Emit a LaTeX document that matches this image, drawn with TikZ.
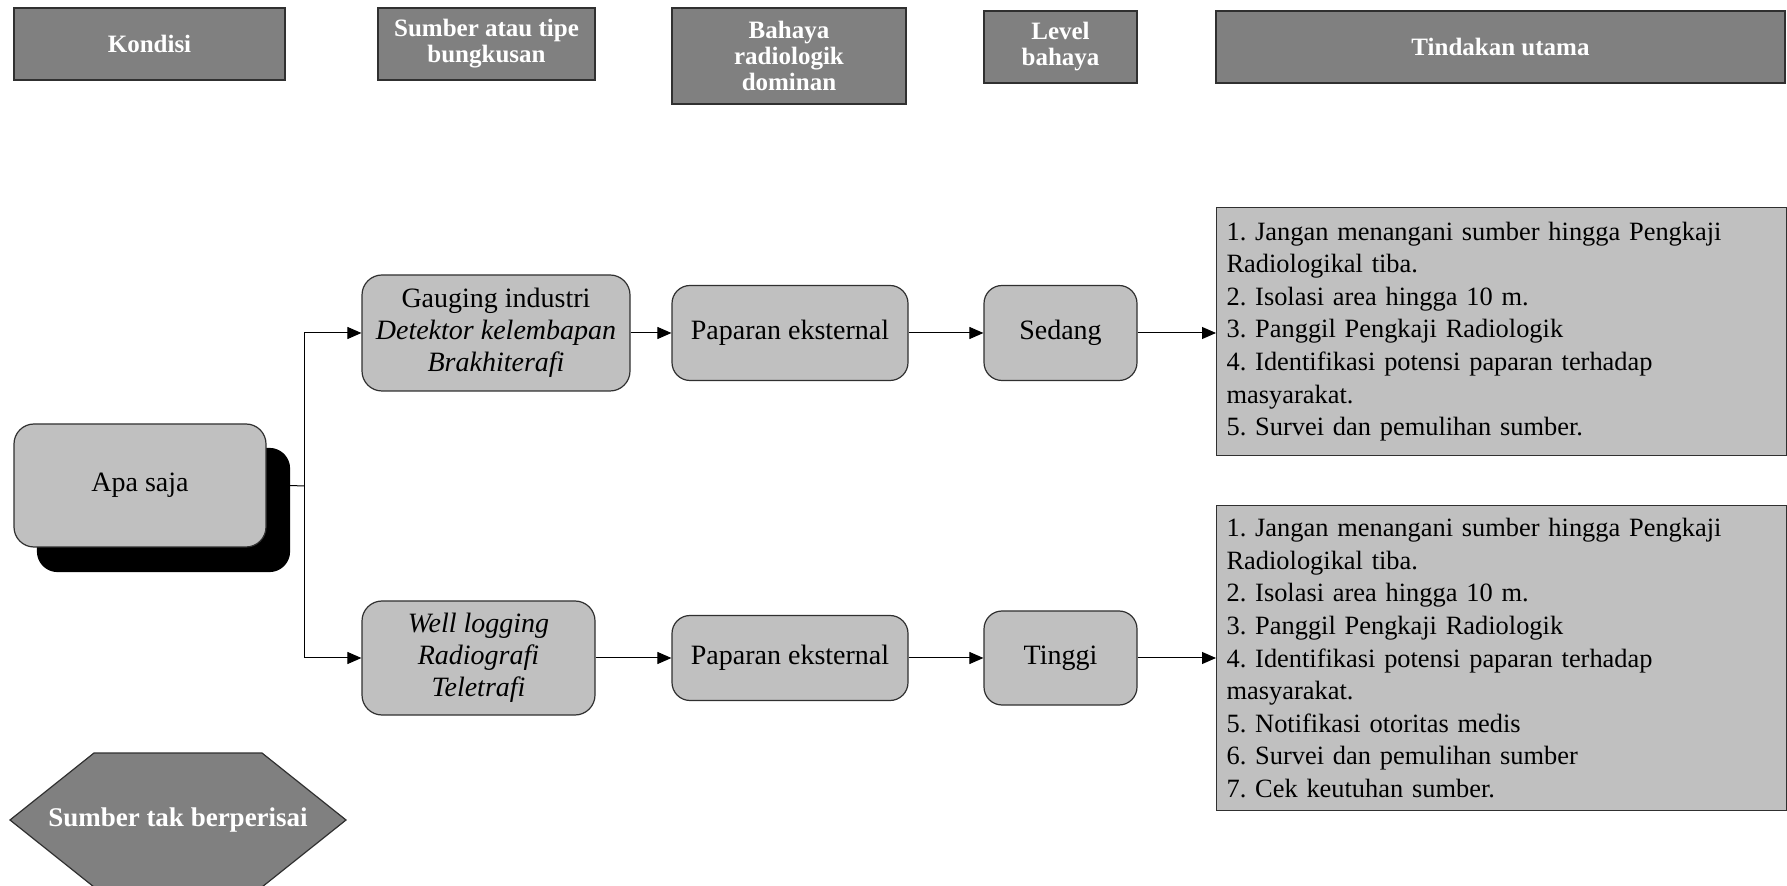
\documentclass[tikz,border=0pt]{standalone}
\usepackage{fontspec}
\setmainfont{Liberation Serif}
\usetikzlibrary{arrows.meta}
\definecolor{hdrgray}{HTML}{808080}
\definecolor{boxgray}{HTML}{C0C0C0}
\definecolor{edgegray}{HTML}{303030}
\frenchspacing
\tikzset{
  hdr/.style={rectangle, fill=hdrgray, draw=edgegray, line width=0.6pt, text=white,
    font=\bfseries\fontsize{12.5}{13}\selectfont, align=center, inner sep=0pt},
  rbox/.style={rectangle, rounded corners=9pt, fill=boxgray, draw=edgegray, line width=0.6pt,
    font=\fontsize{14}{16}\selectfont, align=center, inner sep=0pt},
  actbox/.style={rectangle, fill=boxgray, draw=edgegray, line width=0.6pt,
    font=\fontsize{13.2}{16.3}\selectfont, align=left, text width=275pt, inner xsep=5pt, inner ysep=0pt},
  arr/.style={-{Triangle[length=7pt,width=6pt]}, line width=0.5pt},
  link/.style={line width=0.5pt}
}
\begin{document}
\begin{tikzpicture}[x=0.5pt,y=-0.5pt]
\useasboundingbox (0,0) rectangle (1787,886);
\clip (0,0) rectangle (1787,886);
% headers
\node[hdr, minimum width=135.5pt, minimum height=36pt] (hK) at (149.5,44) {Kondisi};
\node[hdr, minimum width=108.5pt, minimum height=36pt] (hS) at (486.5,44) {Sumber atau tipe\\bungkusan};
\node[hdr, minimum width=117pt, minimum height=48pt] (hB) at (789,56) {Bahaya\\radiologik\\dominan};
\node[hdr, minimum width=76.5pt, minimum height=36pt] (hL) at (1060.5,47) {Level\\bahaya};
\node[hdr, minimum width=284.5pt, minimum height=36pt] (hT) at (1500.5,47) {Tindakan utama};
% Apa saja with shadow
\node[rbox, rounded corners=10pt, fill=black, draw=black, minimum width=126pt, minimum height=61.5pt] (apashadow) at (163.5,510) {};
\node[rbox, rounded corners=10pt, minimum width=126pt, minimum height=61.5pt] (apa) at (140,485.5) {Apa saja};
% upper branch
\node[rbox, rounded corners=10pt, minimum width=134pt, minimum height=58pt] (gauging) at (496,333) {Gauging industri\\\textit{Detektor kelembapan}\\\textit{Brakhiterafi}};
\node[rbox, minimum width=118pt, minimum height=47.5pt] (pap1) at (790,333) {Paparan eksternal};
\node[rbox, minimum width=76.5pt, minimum height=47.5pt] (sedang) at (1060.5,333) {Sedang};
\node[actbox, minimum height=124pt, anchor=north west] (act1) at (1216,207) {1. Jangan menangani sumber hingga Pengkaji\\Radiologikal tiba.\\2. Isolasi area hingga 10 m.\\3. Panggil Pengkaji Radiologik\\4. Identifikasi potensi paparan terhadap\\masyarakat.\\5. Survei dan pemulihan sumber.};
% lower branch
\node[rbox, rounded corners=10pt, minimum width=116.5pt, minimum height=57pt] (well) at (478.5,658) {\textit{Well logging}\\\textit{Radiografi}\\\textit{Teletrafi}};
\node[rbox, minimum width=118pt, minimum height=42.5pt] (pap2) at (790,658) {Paparan eksternal};
\node[rbox, minimum width=76.5pt, minimum height=47pt] (tinggi) at (1060.5,658) {Tinggi};
\node[actbox, minimum height=152.5pt, anchor=north west] (act2) at (1216,505) {1. Jangan menangani sumber hingga Pengkaji\\Radiologikal tiba.\\2. Isolasi area hingga 10 m.\\3. Panggil Pengkaji Radiologik\\4. Identifikasi potensi paparan terhadap\\masyarakat.\\5. Notifikasi otoritas medis\\6. Survei dan pemulihan sumber\\7. Cek keutuhan sumber.};
% connectors
\coordinate (J) at (304,486);
\draw[link] (apa.east -| apashadow.east) -- (J);
\draw[arr] (J) |- (gauging.west);
\draw[arr] (J) |- (well.west);
\draw[arr] (gauging.east) -- (pap1.west);
\draw[arr] (pap1.east) -- (sedang.west);
\draw[arr] (sedang.east) -- (sedang.east -| act1.west);
\draw[arr] (well.east) -- (pap2.west);
\draw[arr] (pap2.east) -- (tinggi.west);
\draw[arr] (tinggi.east) -- (tinggi.east -| act2.west);
% hexagon
\filldraw[fill=hdrgray, draw=edgegray, line width=0.6pt] (10,820) -- (94,753) -- (262,753) -- (346,820) -- (262,887) -- (94,887) -- cycle;
\node[text=white, font=\bfseries\fontsize{13.5}{14}\selectfont, inner sep=0pt] (hex) at (178,820) {Sumber tak berperisai};
\end{tikzpicture}
\end{document}
